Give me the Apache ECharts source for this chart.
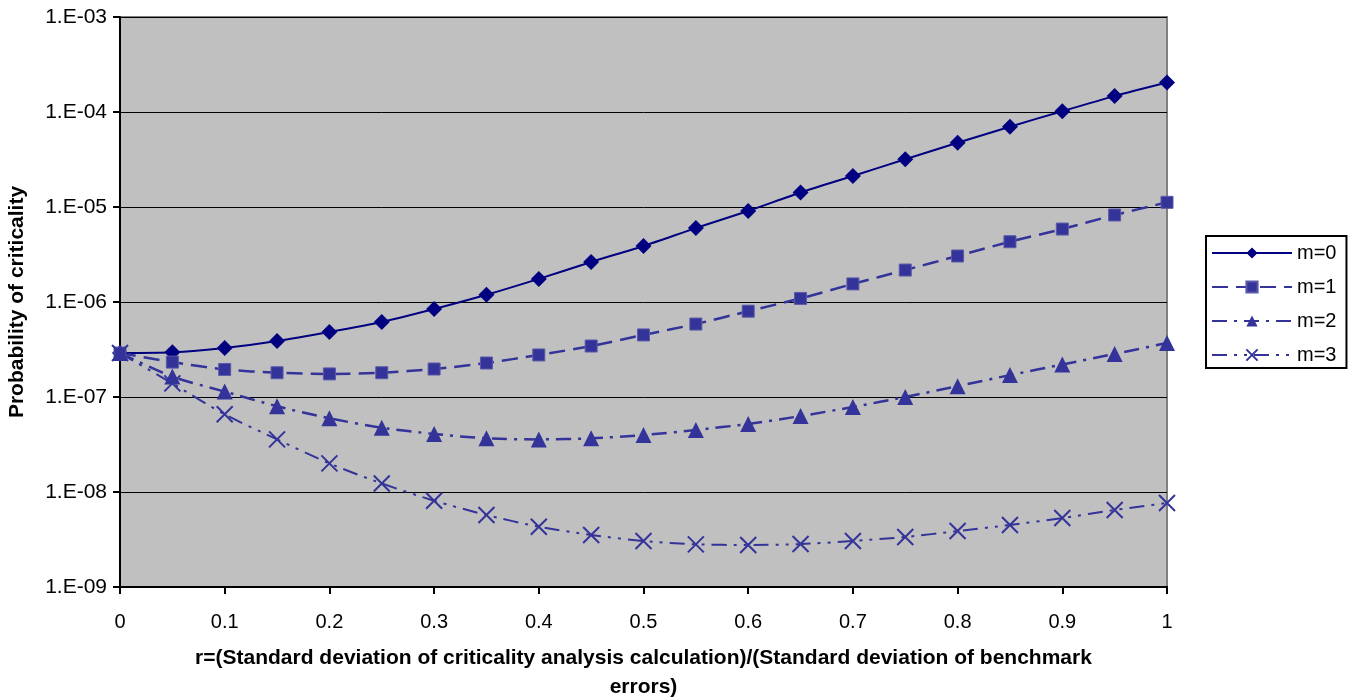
<!DOCTYPE html>
<html>
<head>
<meta charset="utf-8">
<script src="https://cdn.jsdelivr.net/npm/echarts@6/dist/echarts.min.js"></script>
<style>html,body{margin:0;padding:0;background:#fff}#c{width:1358px;height:700px}</style>
</head>
<body>
<div id="c"></div>
<script>
const rValues = [0,0.05,0.1,0.15,0.2,0.25,0.3,0.35,0.4,0.45,0.5,0.55,0.6,0.65,0.7,0.75,0.8,0.85,0.9,0.95,1];
const seriesNames = ['m=0','m=1','m=2','m=3'];
const m0 = [2.9e-7,2.95e-7,3.28e-7,3.88e-7,4.83e-7,6.16e-7,8.43e-7,1.19e-6,1.75e-6,2.64e-6,3.89e-6,6.0e-6,9.08e-6,1.42e-5,2.12e-5,3.18e-5,4.75e-5,7.0e-5,1.02e-4,1.47e-4,2.04e-4];
const m1 = [2.9e-7,2.33e-7,1.95e-7,1.80e-7,1.75e-7,1.80e-7,1.97e-7,2.28e-7,2.77e-7,3.44e-7,4.5e-7,5.86e-7,8.0e-7,1.09e-6,1.55e-6,2.17e-6,3.05e-6,4.31e-6,5.86e-6,8.24e-6,1.12e-5];
const m2 = [2.9e-7,1.64e-7,1.14e-7,8.0e-8,5.97e-8,4.75e-8,4.08e-8,3.67e-8,3.58e-8,3.67e-8,3.98e-8,4.5e-8,5.2e-8,6.3e-8,7.85e-8,1.0e-7,1.3e-7,1.7e-7,2.2e-7,2.84e-7,3.7e-7];
const m3 = [2.9e-7,1.39e-7,6.57e-8,3.58e-8,2.0e-8,1.23e-8,8.1e-9,5.73e-9,4.31e-9,3.53e-9,3.05e-9,2.81e-9,2.77e-9,2.83e-9,3.05e-9,3.36e-9,3.88e-9,4.5e-9,5.32e-9,6.47e-9,7.66e-9];
const xTickLabels = ['0','0.1','0.2','0.3','0.4','0.5','0.6','0.7','0.8','0.9','1'];
const yTickLabels = ['1.E-09','1.E-08','1.E-07','1.E-06','1.E-05','1.E-04','1.E-03'];

const FONT = "'Liberation Sans', Arial, sans-serif";
const pair = arr => rValues.map((x, i) => [x, arr[i]]);
const xPath = 'path://M0,0L10,10M10,0L0,10';

const chart = echarts.init(document.getElementById('c'), null, {renderer: 'canvas'});
chart.setOption({
  animation: false,
  backgroundColor: '#ffffff',
  textStyle: {fontFamily: FONT, color: '#000'},
  grid: {left: 120, right: 191, top: 17, bottom: 113, show: true, backgroundColor: '#C0C0C0', borderColor: '#808080', borderWidth: 2,
    containLabel: false, outerBoundsMode: 'none'},
  legend: {
    orient: 'vertical', left: 1206, top: 236,
    backgroundColor: '#fff',
    borderColor: '#000', borderWidth: 2,
    padding: [7, 10, 3, 5],
    itemWidth: 80, itemHeight: 14, itemGap: 14,
    textStyle: {fontFamily: FONT, fontSize: 20, color: '#000', lineHeight: 20},
    data: seriesNames
  },
  xAxis: {
    type: 'value', min: 0, max: 1, interval: 0.1,
    name: 'r=(Standard deviation of criticality analysis calculation)/(Standard deviation of benchmark\nerrors)',
    nameLocation: 'middle', nameGap: 57,
    nameTextStyle: {fontFamily: FONT, fontSize: 21, fontWeight: 'bold', color: '#000', lineHeight: 29},
    axisLine: {show: true, onZero: false, lineStyle: {color: '#000', width: 2}},
    axisTick: {show: true, inside: false, length: 7, lineStyle: {color: '#000', width: 2}},
    axisLabel: {fontFamily: FONT, fontSize: 20, color: '#000', margin: 25,
      formatter: v => xTickLabels[Math.round(v * 10)]},
    splitLine: {show: false}
  },
  yAxis: {
    type: 'log', logBase: 10, min: 1e-9, max: 1e-3,
    name: 'Probability of criticality',
    nameLocation: 'middle', nameGap: 92,
    nameTextStyle: {fontFamily: FONT, fontSize: 21, fontWeight: 'bold', color: '#000'},
    axisLine: {show: true, lineStyle: {color: '#000', width: 2}},
    axisTick: {show: true, inside: false, length: 7, lineStyle: {color: '#000', width: 2}},
    axisLabel: {fontFamily: FONT, fontSize: 21, color: '#000', margin: 13,
      formatter: v => yTickLabels[Math.round(Math.log10(v)) + 9]},
    splitLine: {show: true, lineStyle: {color: '#000', width: 1}},
    minorTick: {show: false}
  },
  series: [
    {name: seriesNames[0], type: 'line', data: pair(m0), smooth: 0.25,
      symbol: 'diamond', symbolSize: 16, showAllSymbol: true,
      lineStyle: {color: '#000080', width: 2, type: 'solid'},
      itemStyle: {color: '#000080'}},
    {name: seriesNames[1], type: 'line', data: pair(m1), smooth: 0.25,
      symbol: 'rect', symbolSize: 12,
      lineStyle: {color: '#333399', width: 2.5, type: [16, 8]},
      itemStyle: {color: '#333399', borderColor: '#5a5aaa', borderWidth: 1}},
    {name: seriesNames[2], type: 'line', data: pair(m2), smooth: 0.25,
      symbol: 'triangle', symbolSize: 16,
      lineStyle: {color: '#333399', width: 2.5, type: [15, 7, 3, 7]},
      itemStyle: {color: '#333399'}},
    {name: seriesNames[3], type: 'line', data: pair(m3), smooth: 0.25,
      symbol: xPath, symbolSize: 16,
      lineStyle: {color: '#333399', width: 2, type: [15, 7, 3, 7, 3, 7]},
      itemStyle: {color: 'none', borderColor: '#333399', borderWidth: 2}}
  ]
});
</script>
</body>
</html>
